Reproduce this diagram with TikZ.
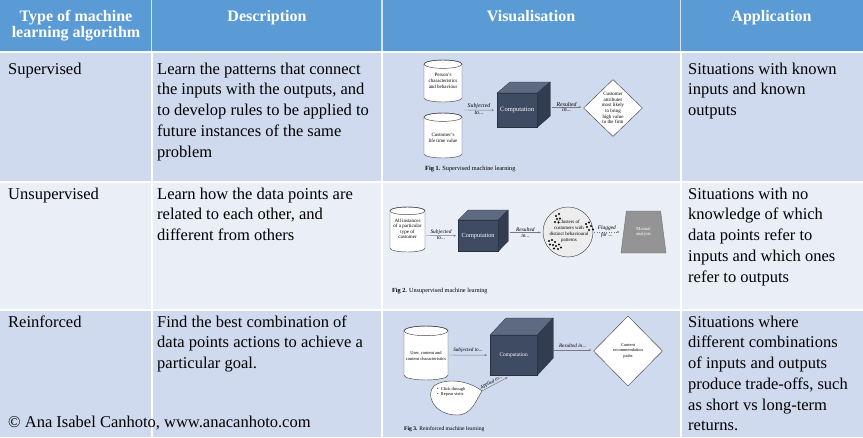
\documentclass[tikz,border=0pt]{standalone}
\usepackage{fontspec}
\setmainfont{Liberation Serif}
\usetikzlibrary{shapes.geometric,arrows.meta}
\definecolor{hdr}{HTML}{5B9BD5}
\definecolor{bandA}{HTML}{CFDAEE}
\definecolor{bandB}{HTML}{E9EEF7}
\definecolor{cubeF}{HTML}{3F4B63}
\definecolor{cubeT}{HTML}{5E6A81}
\definecolor{cubeS}{HTML}{323D52}
\definecolor{lineG}{HTML}{7A7A7A}
\newcommand\bstrut{\rule{0pt}{12pt}}
\newcommand\hstrut{\rule{0pt}{11.5pt}}
% drum: name, x-left, y-top, width, height
\newcommand\drum[5]{%
  \pgfmathsetmacro\drx{#4/2}%
  \pgfmathsetmacro\dry{#4*0.11}%
  \draw[drumline] (#2,#3+\dry) -- (#2,#3+#5-\dry)
    arc[start angle=180,end angle=360,x radius=\drx pt,y radius=\dry pt]
    -- (#2+#4,#3+\dry)
    arc[start angle=0,end angle=180,x radius=\drx pt,y radius=\dry pt] -- cycle;
  \draw[drumline,fill=none] (#2+\drx,#3+\dry) ellipse[x radius=\drx pt,y radius=\dry pt];
  \node[inner sep=0pt,minimum width=#4pt,minimum height=#5pt,anchor=north west] (#1) at (#2,#3) {};
}
% cube: name, x, y (front NW), w, h, dx, dy, text
\newcommand\cube[8]{%
  \node[cubefront,anchor=north west,minimum width=#4pt,minimum height=#5pt] (#1) at (#2,#3) {#8};
  \filldraw[fill=cubeT,draw=cubeS!80!black,line width=0.3pt] (#1.north west) -- ++(#6,-#7) -- ++(#4,0) -- (#1.north east) -- cycle;
  \filldraw[fill=cubeS,draw=cubeS!80!black,line width=0.3pt] (#1.north east) -- ++(#6,-#7) -- ++(0,#5) -- (#1.south east) -- cycle;
}
\begin{document}
\begin{tikzpicture}[x=1pt,y=-1pt,
  body/.style={anchor=north west,inner sep=0pt,align=left,font=\fontsize{16.5}{20.7}\selectfont},
  headtxt/.style={anchor=north,inner sep=0pt,align=center,text=white,font=\fontsize{16}{16.5}\selectfont\bfseries},
  arr/.style={draw=lineG,line width=0.45pt,-{Stealth[length=2.4pt,width=2.2pt]}},
  lab/.style={inner sep=0.7pt,font=\fontsize{5.8}{6.5}\selectfont\itshape},
  drumline/.style={draw=gray!55!black,line width=0.45pt,fill=white},
  tinytxt/.style={inner sep=0pt,align=center,font=\fontsize{5}{5.9}\selectfont},
  cubefront/.style={fill=cubeF,draw=cubeS!80!black,line width=0.3pt,text=white,inner sep=0pt},
  dia/.style={diamond,draw=gray!55!black,line width=0.45pt,fill=white,inner sep=0pt,align=center},
  figcap/.style={anchor=base west,inner sep=0pt},
  blackdot/.style={circle,fill=black,inner sep=0pt,minimum size=2.4pt},
]
\useasboundingbox (0,0) rectangle (863,437);
% backgrounds
\fill[white] (0,0) rectangle (863,437);
\fill[hdr] (0,0) rectangle (863,51);
\fill[bandA] (0,53) rectangle (863,180.5);
\fill[bandB] (0,182.5) rectangle (863,308.5);
\fill[bandA] (0,310.5) rectangle (863,437);
\foreach \gx in {151.5,382,680.5}{
  \draw[white!75!hdr,line width=1.6pt] (\gx,0) -- (\gx,51);
  \draw[white,line width=2pt] (\gx,52) -- (\gx,437);
}
% header
\node[headtxt] (h1) at (76,21-11.5) {\hstrut Type of machine\\learning algorithm};
\node[headtxt] (h2) at (267,21-11.5) {\hstrut Description};
\node[headtxt] (h3) at (531,21-11.5) {\hstrut Visualisation};
\node[headtxt] (h4) at (771.5,21-11.5) {\hstrut Application};
% row 1
\node[body] (t1) at (8,74-12) {\bstrut Supervised};
\node[body] (d1) at (157,74-12) {\bstrut Learn the patterns that connect\\the inputs with the outputs, and\\to develop rules to be applied to\\future instances of the same\\problem};
\node[body] (p1) at (688,74-12) {\bstrut Situations with known\\inputs and known\\outputs};
% row 2
\node[body] (t2) at (8,199-12) {\bstrut Unsupervised};
\node[body] (d2) at (157,199-12) {\bstrut Learn how the data points are\\related to each other, and\\different from others};
\node[body] (p2) at (688,199-12) {\bstrut Situations with no\\knowledge of which\\data points refer to\\inputs and which ones\\refer to outputs};
% row 3
\node[body] (t3) at (8,327-12) {\bstrut Reinforced};
\node[body] (d3) at (157,327-12) {\bstrut Find the best combination of\\data points actions to achieve a\\particular goal.};
\node[body] (p3) at (688,327-12) {\bstrut Situations where\\different combinations\\of inputs and outputs\\produce trade-offs, such\\as short vs long-term\\returns.};
\node[anchor=base west,inner sep=0pt,font=\fontsize{16.5}{20.7}\selectfont] (copy) at (8,427) {© Ana Isabel Canhoto, www.anacanhoto.com};

% ---------- Fig 1 ----------
\drum{ca}{424}{60}{38}{42}
\node[tinytxt] (caT) at (443,81) {Person's\\characteristics\\and behaviour};
\drum{cb}{424}{113}{38}{45}
\node[tinytxt] (cbT) at (443,138) {Customer's\\life time value};
\cube{cu1}{497}{93}{40}{34}{13}{11}{\fontsize{6.5}{7}\selectfont Computation}
\node[dia,minimum width=59pt,minimum height=57pt,font=\fontsize{5}{5.7}\selectfont] (dm1) at (613,108) {Customer\\attributes\\most likely\\to bring\\high value\\to the firm};
\coordinate (s1) at (464,110);
\draw[arr] (s1) -- ([xshift=-3pt]cu1.west) node[midway,above,lab] {Subjected} node[midway,below,lab] {to...};
\coordinate (r1) at (552,107);
\draw[arr] (r1) -- ([xshift=-2pt]dm1.west |- r1) node[midway,above,lab] {Resulted} node[midway,below,lab] {in...};
\node[figcap,font=\fontsize{6.3}{7}\selectfont] (f1) at (425,170) {\textbf{Fig 1.} Supervised machine learning};

% ---------- Fig 2 ----------
\drum{cc}{390}{207}{35}{45}
\node[tinytxt,font=\fontsize{5}{5.5}\selectfont] (ccT) at (407.5,229) {All instances\\of a particular\\type of\\customer};
\cube{cu2}{458}{220}{40}{31}{10}{10}{\fontsize{6.3}{7}\selectfont Computation}
\node[circle,draw=gray!55!black,line width=0.45pt,fill=black!7,minimum size=50pt,inner sep=0pt] (cl) at (568,232) {};
\node[tinytxt,font=\fontsize{4.9}{5.9}\selectfont] (clT) at (569,231) {Clusters of\\customers with\\distinct behavioural\\patterns};
\foreach \px/\py in {556/216,559/214,557/219,560/218.5,555/222,558.5/222.5,
                     586/224,589/222.5,587/227,591/226,589/230,593/229.5,
                     549/241,552/240,555/242,550/244.5,553/245,556/246,559/244.5,554/248.5,558/249,561/247.5}
  \node[blackdot] at (\px,\py) {};
\node[trapezium,trapezium angle=76.6,trapezium stretches=true,minimum width=45pt,minimum height=42pt,
      fill=black!42,draw=black!55,line width=0.45pt,inner sep=0pt,align=center,text=white,
      font=\fontsize{4.6}{5.6}\selectfont] (tz) at (643.5,232) {Manual\\analysis};
\coordinate (s2) at (426,235.5);
\draw[arr] (s2) -- ([xshift=-2pt]cu2.west) node[midway,above,lab,font=\fontsize{5.4}{6}\selectfont\itshape] {Subjected} node[midway,below,lab,font=\fontsize{5.4}{6}\selectfont\itshape] {to...};
\coordinate (r2) at (510,232.5);
\draw[arr] (r2) -- ([xshift=-2pt]cl.west |- r2) node[midway,above,lab,font=\fontsize{5.4}{6}\selectfont\itshape] {Resulted} node[midway,below,lab,font=\fontsize{5.4}{6}\selectfont\itshape] {in...};
\draw[arr,dotted,line width=0.6pt] ([xshift=1pt]cl.east) -- ([xshift=-4pt]tz.west |- cl.east) node[midway,above,lab,font=\fontsize{5.4}{6}\selectfont\itshape] {Flagged} node[midway,below,lab,font=\fontsize{5.4}{6}\selectfont\itshape] {for ...};
\node[figcap,font=\fontsize{6.2}{7}\selectfont] (f2) at (392,292) {\textbf{Fig 2.} Unsupervised machine learning};

% ---------- Fig 3 ----------
\drum{cd}{404}{326}{44}{54}
\node[tinytxt,font=\fontsize{4.5}{5.8}\selectfont] (cdT) at (426,356) {User, content and\\content characteristics};
\cube{cu3}{490}{335}{47}{40}{16}{17}{\fontsize{5.4}{6}\selectfont Computation}
\node[dia,minimum width=69pt,minimum height=70pt,font=\fontsize{4.4}{5.6}\selectfont] (dm3) at (628,351) {Content\\recommendation\\paths};
\draw[drumline] (482,391) .. controls (470,381) and (446,377) .. (434,386)
  .. controls (425,395) and (434,415) .. (457,415)
  .. controls (472,415) and (476,400) .. (482,391) -- cycle;
\node[anchor=west,inner sep=0pt,align=left,font=\fontsize{4.4}{5.8}\selectfont] (dp) at (437,392) {\textbullet\ \ Click through\\\textbullet\ \ Repeat visits};
\coordinate (tip) at (482,391);
\coordinate (s3) at (449,355);
\draw[arr] (s3) -- ([xshift=-3pt]cu3.west) node[midway,above=1.5pt,lab,font=\fontsize{5.2}{6}\selectfont\itshape] {Subjected to...};
\coordinate (r3) at (554,350);
\draw[arr] (r3) -- ([xshift=-2pt]dm3.west |- r3) node[midway,above=1.5pt,lab,font=\fontsize{5.2}{6}\selectfont\itshape] {Resulted in...};
\draw[arr] (tip) -- ([xshift=-6pt,yshift=-2pt]cu3.south) node[pos=0.42,above,sloped,lab,font=\fontsize{5}{6}\selectfont\itshape] {Applied to...};
\node[figcap,font=\fontsize{5.6}{6.5}\selectfont] (f3) at (404,430) {\textbf{Fig 3.} Reinforced machine learning};
\end{tikzpicture}
\end{document}
